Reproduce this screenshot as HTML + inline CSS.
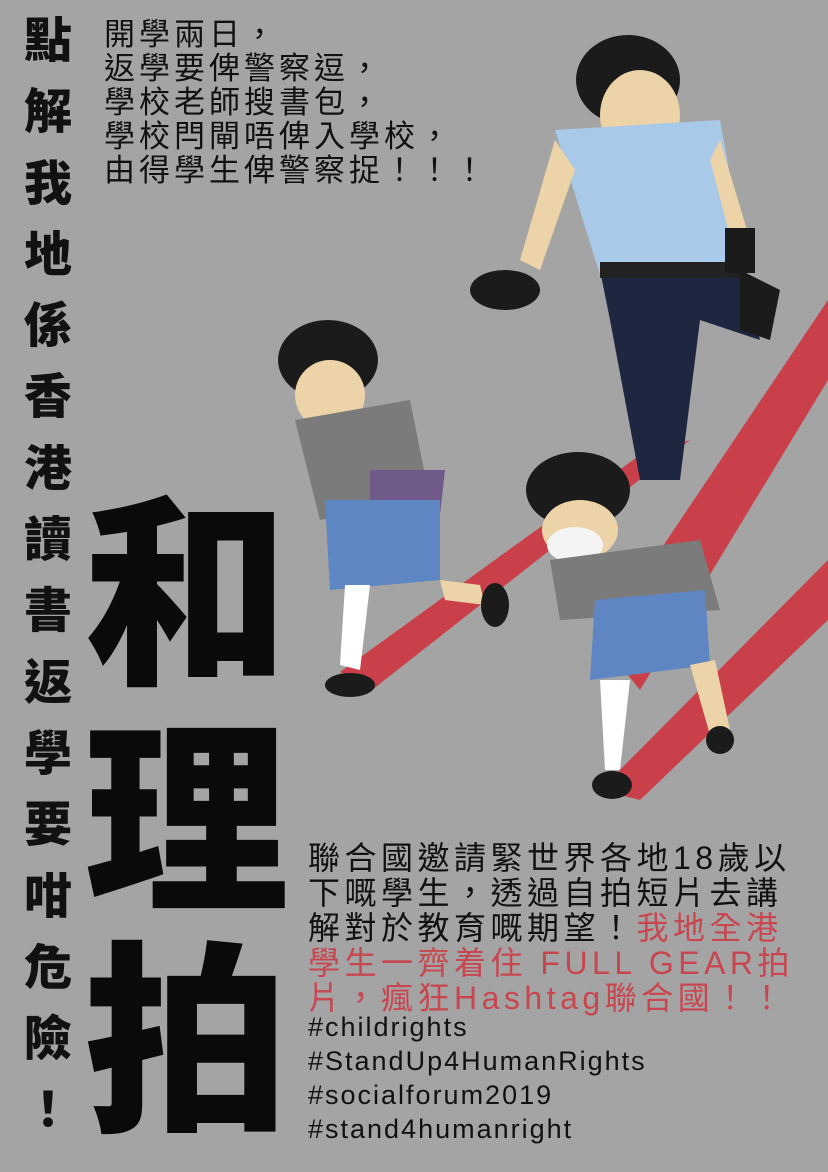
<!DOCTYPE html>
<html><head><meta charset="utf-8">
<style>
html,body{margin:0;padding:0}
body{width:828px;height:1172px;background:#a4a4a4;position:relative;overflow:hidden;font-family:"Liberation Sans","Noto Sans CJK TC",sans-serif}
.t{position:absolute;color:#111;white-space:nowrap}
#side{left:18px;top:6px;width:60px;font-size:48px;font-weight:900;line-height:71.3px;text-align:center}
#top{left:104px;top:18px;font-size:31px;line-height:34px;font-weight:400;letter-spacing:4px}
.big{position:absolute;left:84px;font-size:205px;font-weight:900;line-height:1;color:#0a0a0a}
#bottom{left:308px;top:841px;font-size:32px;line-height:35px;letter-spacing:4.5px}
.red{color:#c8464f}
#tags{left:308px;top:1010px;font-size:27px;line-height:34px;letter-spacing:2px}
svg{position:absolute;left:0;top:0}
</style></head><body>
<svg width="828" height="1172">
 <g fill="#c9404a">
  <polygon points="340,672 640,455 690,440 372,690"/>
  <polygon points="600,640 828,300 828,380 640,690"/>
  <polygon points="600,790 828,560 828,620 640,800"/>
 </g>
 <g>
  <ellipse cx="628" cy="80" rx="52" ry="45" fill="#1b1b1b"/>
  <ellipse cx="640" cy="115" rx="40" ry="45" fill="#ecd3a8"/>
  <polygon points="555,130 720,120 745,260 600,275" fill="#a8c9e8"/>
  <polygon points="600,270 740,262 760,340 700,320 680,480 640,480 610,320" fill="#1f2640"/>
  <polygon points="740,270 780,290 770,340 740,330" fill="#1b1b1b"/>
  <rect x="600" y="262" width="140" height="16" fill="#222"/>
  <polygon points="555,140 520,260 540,270 575,170" fill="#ecd3a8"/>
  <ellipse cx="505" cy="290" rx="35" ry="20" fill="#1b1b1b"/>
  <polygon points="720,140 750,240 735,255 710,160" fill="#ecd3a8"/>
  <rect x="725" y="228" width="30" height="45" fill="#1b1b1b"/>
 </g>
 <g>
  <ellipse cx="328" cy="360" rx="50" ry="40" fill="#1b1b1b"/>
  <ellipse cx="330" cy="395" rx="35" ry="35" fill="#ecd3a8"/>
  <polygon points="295,420 410,400 430,500 320,520" fill="#7b7b7b"/>
  <polygon points="370,470 445,470 440,515 370,505" fill="#6f5a8a"/>
  <polygon points="325,500 440,500 440,580 330,590" fill="#5e86c2"/>
  <polygon points="345,585 370,585 360,670 340,665" fill="#fff"/>
  <polygon points="440,580 480,585 485,605 445,600" fill="#ecd3a8"/>
  <ellipse cx="350" cy="685" rx="25" ry="12" fill="#1b1b1b"/>
  <ellipse cx="495" cy="605" rx="14" ry="22" fill="#1b1b1b"/>
 </g>
 <g>
  <ellipse cx="578" cy="490" rx="52" ry="38" fill="#1b1b1b"/>
  <ellipse cx="580" cy="530" rx="38" ry="30" fill="#ecd3a8"/>
  <ellipse cx="575" cy="545" rx="28" ry="18" fill="#f4f4f4"/>
  <polygon points="550,560 700,540 720,610 560,620" fill="#7b7b7b"/>
  <polygon points="595,600 705,590 710,665 590,680" fill="#5e86c2"/>
  <polygon points="600,680 630,680 620,770 605,770" fill="#fff"/>
  <polygon points="690,665 715,660 730,730 710,735" fill="#ecd3a8"/>
  <ellipse cx="612" cy="785" rx="20" ry="14" fill="#1b1b1b"/>
  <ellipse cx="720" cy="740" rx="14" ry="14" fill="#1b1b1b"/>
 </g>
</svg>
<div class="t" id="side">點<br>解<br>我<br>地<br>係<br>香<br>港<br>讀<br>書<br>返<br>學<br>要<br>咁<br>危<br>險<br>！</div>
<div class="t" id="top">開學兩日，<br>返學要俾警察逗，<br>學校老師搜書包，<br>學校閂閘唔俾入學校，<br>由得學生俾警察捉！！！</div>
<div class="big" style="top:495px">和</div>
<div class="big" style="top:722px">理</div>
<div class="big" style="top:942px">拍</div>
<div class="t" id="bottom">聯合國邀請緊世界各地18歲以<br>下嘅學生，透過自拍短片去講<br>解對於教育嘅期望！<span class="red">我地全港</span><br><span class="red">學生一齊着住 FULL GEAR拍</span><br><span class="red">片，瘋狂Hashtag聯合國！！</span></div>
<div class="t" id="tags">#childrights<br>#StandUp4HumanRights<br>#socialforum2019<br>#stand4humanright</div>
</body></html>
